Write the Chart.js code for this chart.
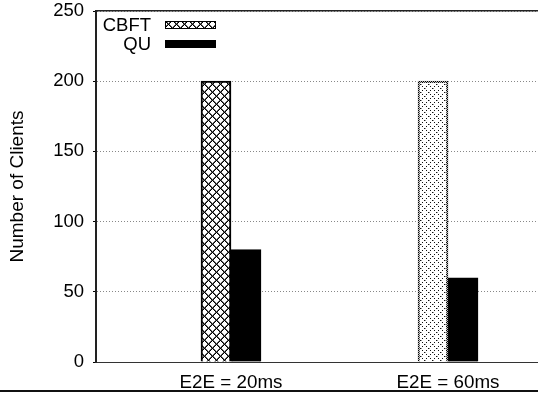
<!DOCTYPE html>
<html>
<head>
<meta charset="utf-8">
<title>Number of Clients</title>
<script src="https://cdn.jsdelivr.net/npm/chart.js@4/dist/chart.umd.min.js"></script>
<style>
  html, body { margin: 0; padding: 0; background: #fff; overflow: hidden; }
  #wrap { position: relative; width: 538px; height: 394px; }
  #rule { position: absolute; left: 0; top: 390px; width: 538px; height: 2px; background: #111; }
</style>
</head>
<body>
<div id="wrap">
  <canvas id="chart" width="538" height="394"></canvas>
  <div id="rule"></div>
</div>
<script>
// Groups along the x axis and the two series drawn in each group
const categories = ['E2E = 20ms', 'E2E = 60ms'];
const seriesNames = ['CBFT', 'QU'];
const cbftValues = [200, 200];
const quValues = [80, 60];
const yTickValues = [0, 50, 100, 150, 200, 250];
const yTitle = 'Number of Clients';

const FONT = "'Liberation Sans', Arial, Helvetica, sans-serif";

// Small bitmap tiles used as fill patterns
function makePattern(w, h, inkAt) {
  const cv = document.createElement('canvas');
  cv.width = w; cv.height = h;
  const g = cv.getContext('2d');
  g.fillStyle = '#fff';
  g.fillRect(0, 0, w, h);
  for (let y = 0; y < h; y++) {
    for (let x = 0; x < w; x++) {
      const c = inkAt(x, y);
      if (c) { g.fillStyle = c; g.fillRect(x, y, 1, 1); }
    }
  }
  return g.createPattern(cv, 'repeat');
}

// crosshatch: two sets of diagonal lines
const crossHatch = makePattern(8, 8, (x, y) => {
  const a = (x - y + 8) % 8, b = (x + y) % 8;
  if (a === 0 || b === 0) return '#000';
  if (a === 1 || b === 7) return '#666';
  return null;
});

// sparse dotted crosshatch
const dottedHatch = makePattern(8, 8, (x, y) => {
  const onDiag = ((x - y + 8) % 8 === 0) || ((x + y) % 8 === 0);
  if (onDiag && x % 2 === 0) return '#111';
  const prevDiag = ((x - 1 - y + 8) % 8 === 0) || ((x - 1 + y) % 8 === 0);
  if (prevDiag && (x - 1) % 2 === 0 && y % 4 === 0) return '#999';
  return null;
});

// dotted outline
const dottedEdge = makePattern(2, 2, (x, y) => ((x + y) % 2 === 0 ? '#000' : '#bbb'));

const toPoints = vals => vals.map((v, i) => ({ x: i, y: v }));

// inside-the-frame legend: label on the left, swatch on the right
const insideLegend = {
  id: 'insideLegend',
  afterDraw(chart) {
    const ctx = chart.ctx;
    const area = chart.chartArea;
    ctx.save();
    chart.data.datasets.forEach((ds, i) => {
      const y = area.top + 14 + i * 19;
      ctx.font = '18.5px ' + FONT;
      ctx.textAlign = 'right';
      ctx.textBaseline = 'middle';
      ctx.fillStyle = '#000';
      ctx.fillText(ds.label, area.left + 55, y + 1);
      const bg = Array.isArray(ds.backgroundColor) ? ds.backgroundColor[0] : ds.backgroundColor;
      ctx.fillStyle = bg;
      ctx.fillRect(area.left + 69, y - 4, 51, 8);
      ctx.strokeStyle = '#000';
      ctx.lineWidth = 1;
      ctx.strokeRect(area.left + 69.5, y - 3.5, 50, 7);
    });
    ctx.restore();
  }
};

const xMin = -0.6221, xMax = 1.4147;

new Chart(document.getElementById('chart'), {
  type: 'bar',
  data: {
    datasets: [
      {
        label: seriesNames[0],
        data: toPoints(cbftValues),
        backgroundColor: [crossHatch, dottedHatch],
        borderColor: ['#000', dottedEdge],
        borderWidth: 2,
        barThickness: 30
      },
      {
        label: seriesNames[1],
        data: toPoints(quValues),
        backgroundColor: '#000',
        borderColor: '#000',
        borderWidth: 1,
        barThickness: 30
      }
    ]
  },
  options: {
    responsive: false,
    animation: false,
    devicePixelRatio: 1,
    layout: { padding: { top: 11, left: 0, right: 0, bottom: 0 } },
    plugins: {
      legend: { display: false },
      tooltip: { enabled: false }
    },
    scales: {
      x: {
        type: 'linear',
        position: 'bottom',
        offset: false,
        min: xMin,
        max: xMax,
        afterBuildTicks: s => { s.ticks = categories.map((_, i) => ({ value: i })); },
        afterFit: s => { s.height = 32; s.paddingLeft = 0; s.paddingRight = 0; },
        ticks: {
          callback: v => categories[v] ?? '',
          font: { family: FONT, size: 18.8 },
          color: '#000',
          padding: 10,
          maxRotation: 0,
          autoSkip: false
        },
        grid: { display: false, drawTicks: false, offset: false },
        border: { display: true, color: '#333', width: 1 }
      },
      xTop: {
        type: 'linear',
        position: 'top',
        offset: false,
        min: xMin,
        max: xMax,
        afterFit: s => { s.height = 0; s.paddingLeft = 0; s.paddingRight = 0; },
        ticks: { display: false },
        grid: { display: false, drawTicks: false, offset: false },
        border: { display: true, color: '#222', width: 1.5 }
      },
      y: {
        min: 0,
        max: 250,
        afterBuildTicks: s => { s.ticks = yTickValues.map(v => ({ value: v })); },
        afterFit: s => { s.width = 96; s.paddingTop = 0; s.paddingBottom = 0; },
        ticks: {
          font: { family: FONT, size: 18.5 },
          color: '#000',
          padding: 9
        },
        grid: {
          color: '#888',
          lineWidth: 1,
          borderDash: [1, 2],
          tickLength: 3,
          tickColor: '#000',
          tickWidth: 1,
          tickBorderDash: []
        },
        border: { display: true, color: '#222', width: 2, dash: [1, 2] },
        title: {
          display: true,
          text: yTitle,
          font: { family: FONT, size: 19 },
          color: '#000',
          padding: { top: 6, bottom: 0 }
        }
      }
    }
  },
  plugins: [insideLegend]
});
</script>
</body>
</html>
